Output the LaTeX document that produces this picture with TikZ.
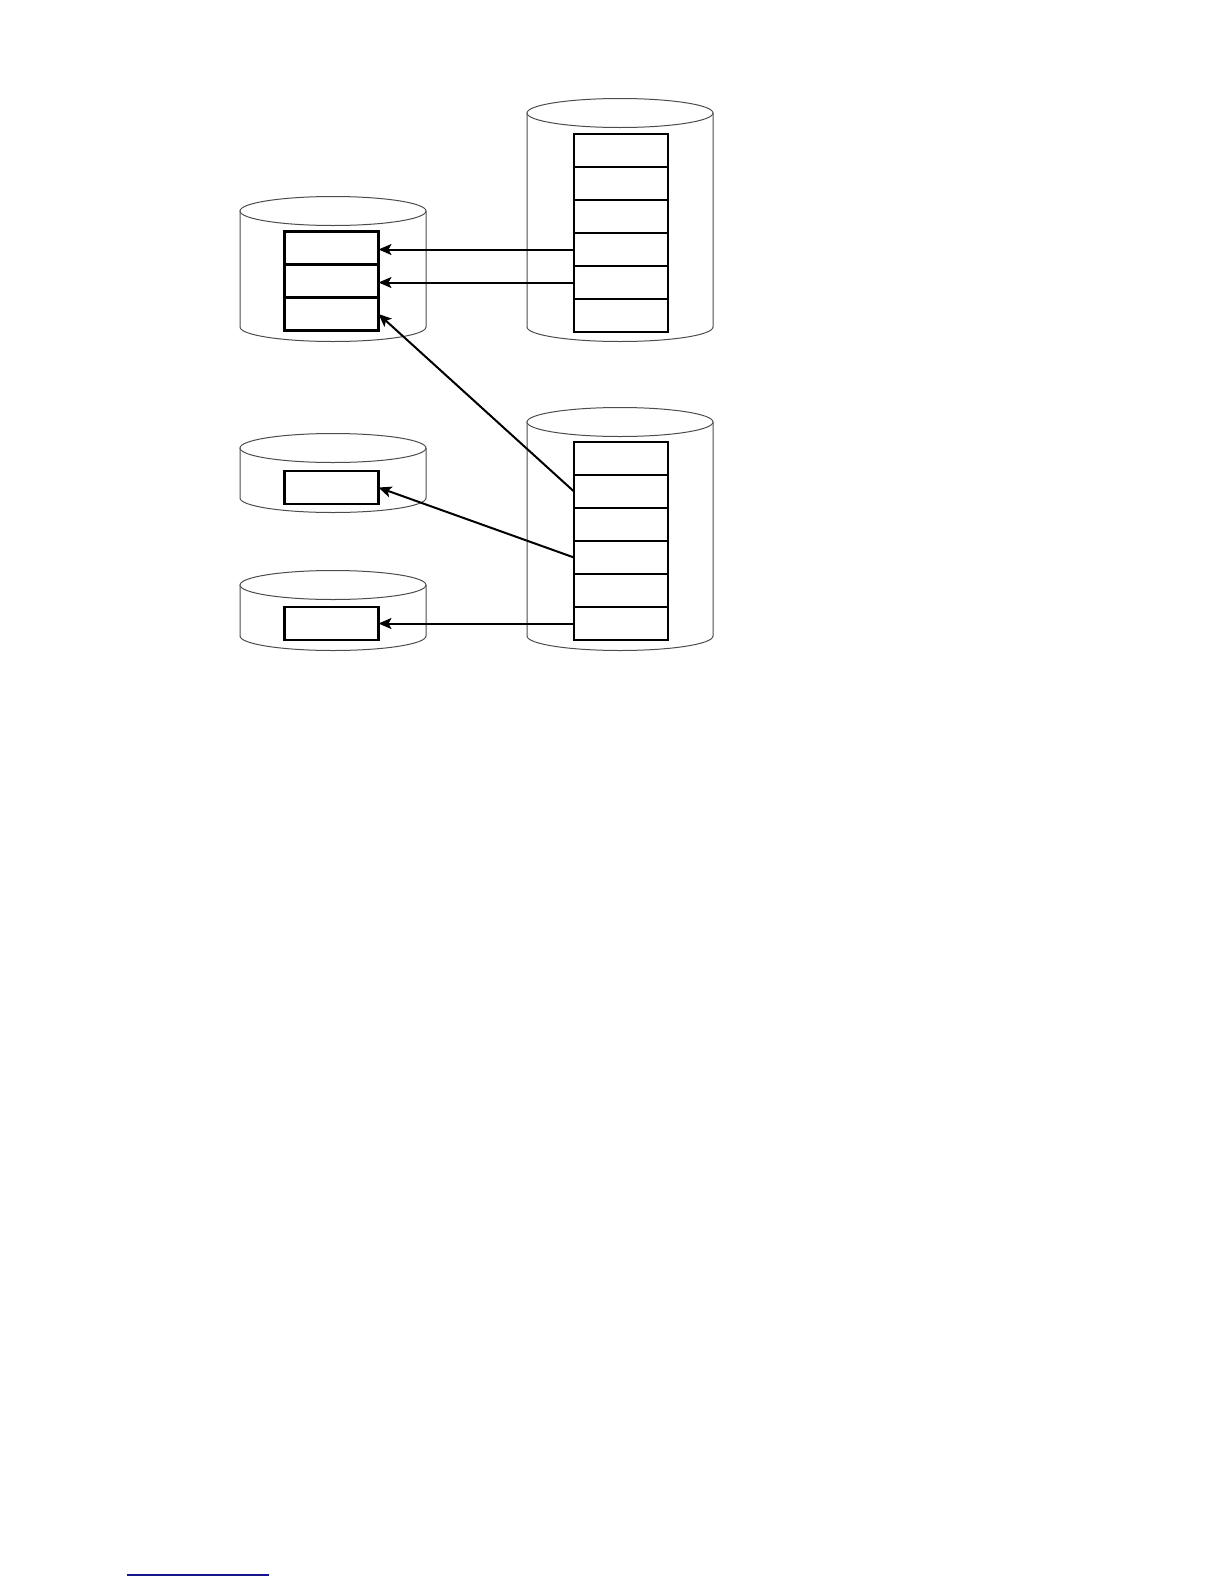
\documentclass[tikz,border=0pt]{standalone}
\usetikzlibrary{arrows.meta}
\begin{document}
\begin{tikzpicture}[x=0.5bp,y=-0.5bp,
  cylline/.style={draw=black!70,line width=0.5bp},
  rowbox/.style={draw=black,line width=0.6bp,minimum width=47bp,minimum height=16.5bp,inner sep=0pt,outer sep=0pt},
  thickbox/.style={rowbox,line width=1.2bp},
  link/.style={line width=1bp,-{Stealth[length=6.5bp,width=5.5bp,inset=1.5bp]}},
  footrule/.style={draw={rgb,255:red,20;green,20;blue,140},line width=0.8bp}]
\useasboundingbox (0,0) rectangle (1224,1584);
\newcommand{\drum}[3]{%
  \draw[cylline] (#1-93,#2) -- (#1-93,#3) arc[start angle=180,end angle=0,x radius=93,y radius=14.5] -- (#1+93,#2);
  \draw[cylline,fill=white] (#1,#2) ellipse[x radius=93,y radius=14.5];}
% cylinders
\drum{333}{211}{327}
\drum{620}{113}{327}
\drum{620}{422}{636}
\drum{333}{448}{498}
\drum{333}{585}{636}
% right top stack
\node[rowbox] (rt1) at (621,150.5) {};
\node[rowbox] (rt2) at (621,183.5) {};
\node[rowbox] (rt3) at (621,216.5) {};
\node[rowbox] (rt4) at (621,249.5) {};
\node[rowbox] (rt5) at (621,282.5) {};
\node[rowbox] (rt6) at (621,315.5) {};
\foreach \r in {rt4,rt5,rt6}{
  \draw[line width=1bp] (\r.north west) -- (\r.north east);
  \draw[line width=1bp] (\r.south west) -- (\r.south east);}
% right bottom stack
\node[rowbox] (rb1) at (621,458.5) {};
\node[rowbox] (rb2) at (621,491.5) {};
\node[rowbox] (rb3) at (621,524.5) {};
\node[rowbox] (rb4) at (621,557.5) {};
\node[rowbox] (rb5) at (621,590.5) {};
\node[rowbox] (rb6) at (621,623.5) {};
\draw[line width=1bp] (rb1.north west) -- (rb1.north east);
\draw[line width=1bp] (rb1.south west) -- (rb1.south east);
\draw[line width=1bp] (rb6.south west) -- (rb6.south east);
% left boxes
\node[thickbox] (lt1) at (331.5,248) {};
\node[thickbox] (lt2) at (331.5,281) {};
\node[thickbox] (lt3) at (331.5,314) {};
\node[thickbox] (lm) at (331.5,487.5) {};
\node[thickbox] (lb) at (331.5,623.5) {};
% connectors
\draw[link] (rt4.west) -- (lt1.east |- rt4.west);
\draw[link] (rt5.west) -- (lt2.east |- rt5.west);
\draw[link] (rb2.west) -- (lt3.east);
\draw[link] (rb4.west) -- (lm.east);
\draw[link] (rb6.west) -- (lb.east |- rb6.west);
% rule at page foot
\coordinate (fa) at (127,1575);
\coordinate (fb) at (269,1575);
\draw[footrule] (fa) -- (fb);
\end{tikzpicture}
\end{document}
